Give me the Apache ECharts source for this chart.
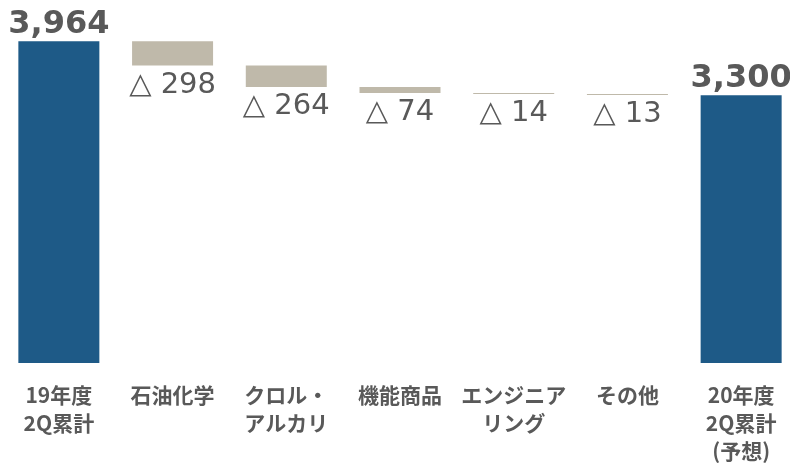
<!DOCTYPE html>
<html>
<head>
<meta charset="utf-8">
<script src="https://cdn.jsdelivr.net/npm/echarts@6/dist/echarts.min.js"></script>
<style>
  html, body { margin: 0; padding: 0; background: #ffffff; }
  #chart { width: 790px; height: 463px; }
</style>
</head>
<body>
<div id="chart"></div>
<script>
// Operating profit bridge: FY19 2Q cumulative -> FY20 2Q cumulative (forecast)
const categories = ['19年度\n2Q累計', '石油化学', 'クロル・\nアルカリ', '機能商品', 'エンジニア\nリング', 'その他', '20年度\n2Q累計\n(予想)'];
const startTotal = 3964;
const decreases = [298, 264, 74, 14, 13];
const endTotal = 3300;

// Build the invisible base and visible bar heights for the waterfall
const baseData = [0];
const totalData = [startTotal];
const decreaseData = ['-'];
let running = startTotal;
decreases.forEach(function (d) {
  running -= d;
  baseData.push(running);
  totalData.push('-');
  decreaseData.push(d);
});
baseData.push(0);
totalData.push(endTotal);
decreaseData.push('-');

const chart = echarts.init(document.getElementById('chart'));
chart.setOption({
  animation: false,
  grid: { left: 2, top: 38.4, width: 796, height: 324.6, outerBoundsMode: 'none', containLabel: false },
  xAxis: {
    type: 'category',
    data: categories,
    axisLine: { show: false },
    axisTick: { show: false },
    axisLabel: {
      interval: 0,
      margin: 18,
      color: '#595959',
      fontFamily: 'Noto Sans CJK JP',
      fontWeight: 'bold',
      fontSize: 21,
      lineHeight: 28,
      verticalAlign: 'top'
    }
  },
  yAxis: {
    type: 'value',
    min: 0,
    max: 4000,
    show: false,
    splitLine: { show: false }
  },
  series: [
    {
      type: 'bar',
      stack: 'w',
      data: baseData,
      barWidth: 81,
      itemStyle: { color: 'transparent' },
      silent: true
    },
    {
      type: 'bar',
      stack: 'w',
      data: totalData,
      barWidth: 81,
      itemStyle: { color: '#1E5A87' },
      label: {
        show: true,
        position: 'top',
        distance: 1,
        color: '#595959',
        fontFamily: 'DejaVu Sans',
        fontWeight: 'bold',
        fontSize: 32,
        formatter: function (p) { return p.value.toLocaleString('en-US'); }
      }
    },
    {
      type: 'bar',
      stack: 'w',
      data: decreaseData,
      barWidth: 81,
      itemStyle: { color: '#BFB9AA' },
      label: {
        show: true,
        position: 'bottom',
        distance: 5,
        color: '#595959',
        fontFamily: 'DejaVu Sans',
        fontSize: 29,
        formatter: function (p) { return '△ ' + p.value; }
      }
    }
  ]
});
</script>
</body>
</html>
